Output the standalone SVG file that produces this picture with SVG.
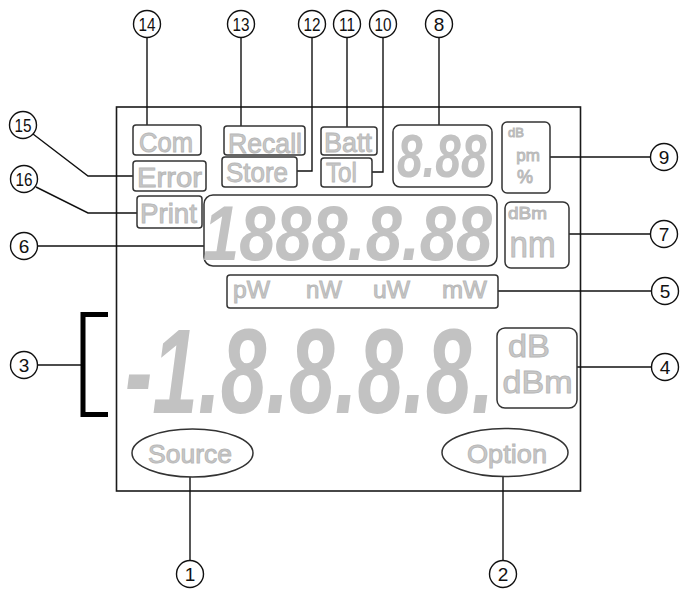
<svg xmlns="http://www.w3.org/2000/svg" width="683" height="590" viewBox="0 0 683 590">
<style>
.frame{fill:none;stroke:#1a1a1a;stroke-width:1.6}
.box{fill:#fff;stroke:#333;stroke-width:1.5}
.lbl{font-family:"Liberation Sans",Arial,sans-serif;fill:#c8c8c8;stroke:#b8b8b8;stroke-width:0.9;text-anchor:middle}
.seg{font-family:"Liberation Sans",Arial,sans-serif;font-style:italic;font-weight:bold;fill:#c2c2c2}
.conn line,.conn polyline{fill:none;stroke:#111;stroke-width:1.4}
.co circle{fill:#fff;stroke:#111;stroke-width:1.4}
.co text{font-family:"Liberation Sans",Arial,sans-serif;font-size:19px;fill:#111;text-anchor:middle}
.brk{fill:none;stroke:#000;stroke-width:5}
</style>
<rect width="683" height="590" fill="#fff"/>
<rect id="lcd-frame" class="frame" x="116.5" y="107" width="464" height="384"/>

<g id="connectors" class="conn">
  <line x1="147" y1="38" x2="147" y2="125"/>
  <line x1="241" y1="38" x2="241" y2="126"/>
  <polyline points="312,38 312,171 297,171"/>
  <line x1="347" y1="38" x2="347" y2="127"/>
  <polyline points="383,38 383,172 372,172"/>
  <line x1="439" y1="38" x2="439" y2="125"/>
  <line x1="550" y1="157" x2="650" y2="157"/>
  <line x1="569" y1="234" x2="650" y2="234"/>
  <line x1="498" y1="291" x2="651" y2="291"/>
  <line x1="577" y1="367" x2="651" y2="367"/>
  <line x1="37" y1="246" x2="204" y2="246"/>
  <line x1="37" y1="365" x2="81" y2="365"/>
  <polyline points="33,134 88,176 133,176"/>
  <polyline points="36,187 88,213 137,213"/>
  <line x1="190" y1="477" x2="190" y2="561"/>
  <line x1="503" y1="477" x2="503" y2="561"/>
</g>

<g id="com"><rect class="box" x="133" y="125" width="68" height="30" rx="3"/><text class="lbl" x="166" y="152" font-size="27" textLength="54" lengthAdjust="spacingAndGlyphs">Com</text></g>
<g id="error"><rect class="box" x="133" y="161" width="73" height="30" rx="3"/><text class="lbl" x="169.5" y="187" font-size="27" textLength="65" lengthAdjust="spacingAndGlyphs">Error</text></g>
<g id="print"><rect class="box" x="137" y="196" width="65" height="32" rx="3"/><text class="lbl" x="168.5" y="223" font-size="27" textLength="57" lengthAdjust="spacingAndGlyphs">Print</text></g>
<g id="recall"><rect class="box" x="224" y="126" width="81" height="29" rx="3"/><text class="lbl" x="265" y="153" font-size="27" textLength="74" lengthAdjust="spacingAndGlyphs">Recall</text></g>
<g id="store"><rect class="box" x="222" y="157" width="75" height="30" rx="3"/><text class="lbl" x="257" y="182" font-size="27" textLength="62" lengthAdjust="spacingAndGlyphs">Store</text></g>
<g id="batt"><rect class="box" x="321" y="127" width="56" height="28" rx="3"/><text class="lbl" x="348" y="152" font-size="27" textLength="48" lengthAdjust="spacingAndGlyphs">Batt</text></g>
<g id="tol"><rect class="box" x="321" y="158" width="51" height="29" rx="3"/><text class="lbl" x="341.5" y="182" font-size="27" textLength="31" lengthAdjust="spacingAndGlyphs">Tol</text></g>

<g id="small-display"><rect class="box" x="393" y="125" width="99" height="62" rx="7"/>
<text class="seg" font-size="46" transform="translate(397,177) scale(1,1.33)">8.88</text></g>

<g id="unit-small"><rect class="box" x="502" y="122" width="48" height="71" rx="5"/>
<text class="lbl" x="516" y="137" font-size="13" stroke-width="0.3">dB</text>
<text class="lbl" x="528" y="161" font-size="17" stroke-width="0.4">pm</text>
<text class="lbl" x="525" y="183" font-size="18" stroke-width="0.4">%</text></g>

<g id="main-display"><rect class="box" x="204" y="195" width="293" height="71" rx="9"/>
<text class="seg" font-size="65" transform="translate(203,260) scale(1,1.2)">1888.8.88</text></g>

<g id="unit-main"><rect class="box" x="505" y="202" width="64" height="66" rx="6"/>
<text class="lbl" x="527.5" y="219" font-size="17" stroke-width="0.4" textLength="39" lengthAdjust="spacingAndGlyphs">dBm</text>
<text class="lbl" x="532.5" y="257" font-size="36" textLength="46" lengthAdjust="spacingAndGlyphs">nm</text></g>

<g id="power-units"><rect class="box" x="227" y="275" width="271" height="33" rx="3"/>
<text class="lbl" x="251.5" y="298" font-size="23" textLength="37" lengthAdjust="spacingAndGlyphs">pW</text>
<text class="lbl" x="324" y="298" font-size="23" textLength="36" lengthAdjust="spacingAndGlyphs">nW</text>
<text class="lbl" x="391.5" y="298" font-size="23" textLength="37" lengthAdjust="spacingAndGlyphs">uW</text>
<text class="lbl" x="464.5" y="298" font-size="23" textLength="45" lengthAdjust="spacingAndGlyphs">mW</text></g>

<g id="big-display">
<text class="seg" font-size="82" transform="translate(125,413) scale(1,1.463)">-1.8.8.8.8.</text></g>

<g id="unit-big"><rect class="box" x="497" y="328" width="80" height="80" rx="8"/>
<text class="lbl" x="529" y="357" font-size="31" textLength="42" lengthAdjust="spacingAndGlyphs">dB</text>
<text class="lbl" x="537.5" y="393" font-size="31" textLength="70" lengthAdjust="spacingAndGlyphs">dBm</text></g>

<g id="bracket"><polyline class="brk" points="108,314.5 83,314.5 83,414.5 108,414.5"/></g>

<g id="source"><ellipse class="box" cx="192.5" cy="453" rx="60.5" ry="24"/><text class="lbl" x="190" y="463" font-size="26" textLength="84" lengthAdjust="spacingAndGlyphs">Source</text></g>
<g id="option"><ellipse class="box" cx="505" cy="452.5" rx="63" ry="24"/><text class="lbl" x="507" y="463" font-size="26" textLength="80" lengthAdjust="spacingAndGlyphs">Option</text></g>

<g id="callout-14" class="co"><circle cx="147" cy="24" r="13.5"/><text x="147" y="31" textLength="17" lengthAdjust="spacingAndGlyphs">14</text></g>
<g id="callout-13" class="co"><circle cx="241" cy="24" r="13.5"/><text x="241" y="31" textLength="17" lengthAdjust="spacingAndGlyphs">13</text></g>
<g id="callout-12" class="co"><circle cx="312" cy="24" r="13.5"/><text x="312" y="31" textLength="17" lengthAdjust="spacingAndGlyphs">12</text></g>
<g id="callout-11" class="co"><circle cx="347" cy="24" r="13.5"/><text x="347" y="31" textLength="16" lengthAdjust="spacingAndGlyphs">11</text></g>
<g id="callout-10" class="co"><circle cx="383" cy="24" r="13.5"/><text x="383" y="31" textLength="17" lengthAdjust="spacingAndGlyphs">10</text></g>
<g id="callout-8" class="co"><circle cx="439" cy="24" r="13.5"/><text x="439" y="31">8</text></g>
<g id="callout-9" class="co"><circle cx="664" cy="157" r="13.5"/><text x="664" y="164">9</text></g>
<g id="callout-7" class="co"><circle cx="664" cy="234" r="13.5"/><text x="664" y="241">7</text></g>
<g id="callout-5" class="co"><circle cx="665" cy="291" r="13.5"/><text x="665" y="298">5</text></g>
<g id="callout-4" class="co"><circle cx="665" cy="367" r="13.5"/><text x="665" y="374">4</text></g>
<g id="callout-15" class="co"><circle cx="23" cy="125" r="13.5"/><text x="23" y="132" textLength="17" lengthAdjust="spacingAndGlyphs">15</text></g>
<g id="callout-16" class="co"><circle cx="24" cy="179" r="13.5"/><text x="24" y="186" textLength="17" lengthAdjust="spacingAndGlyphs">16</text></g>
<g id="callout-6" class="co"><circle cx="24" cy="246" r="13.5"/><text x="24" y="253">6</text></g>
<g id="callout-3" class="co"><circle cx="24" cy="365" r="13.5"/><text x="24" y="372">3</text></g>
<g id="callout-1" class="co"><circle cx="190" cy="574" r="13.5"/><text x="190" y="581">1</text></g>
<g id="callout-2" class="co"><circle cx="503" cy="574" r="13.5"/><text x="503" y="581">2</text></g>
</svg>
